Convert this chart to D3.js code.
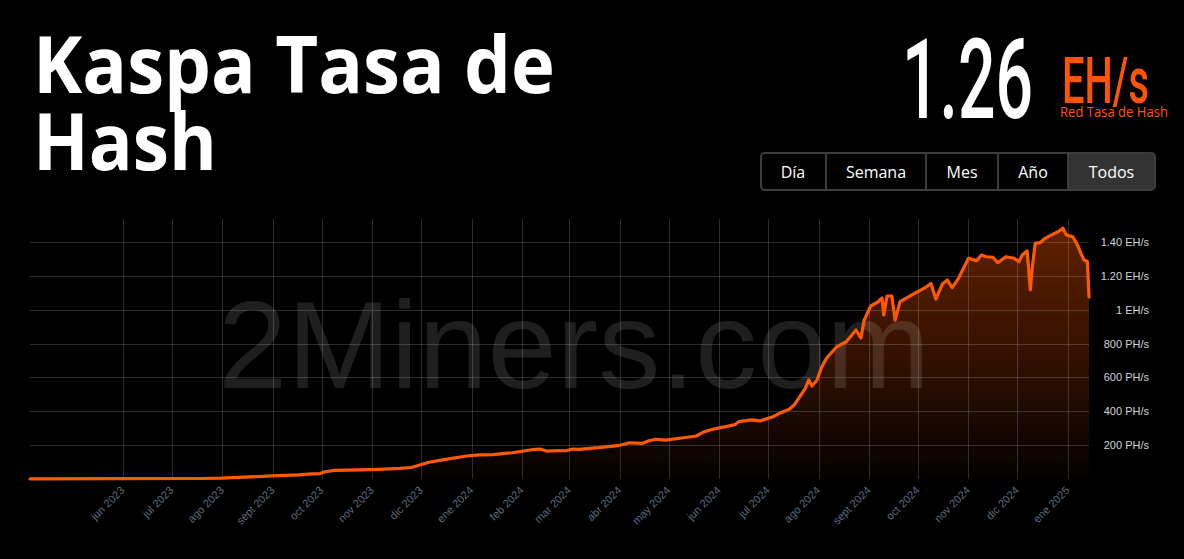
<!DOCTYPE html>
<html><head><meta charset="utf-8">
<script src="https://cdn.jsdelivr.net/npm/d3@7"></script>
<style>
html,body{margin:0;padding:0;background:#000;}
svg{display:block;}
</style></head>
<body>
<svg id="c" width="1184" height="559"></svg>
<script>
// ---- data ----
const dates = ["2023-04-05","2023-05-30","2023-07-18","2023-08-01","2023-08-18","2023-08-31","2023-09-17","2023-09-25","2023-09-30","2023-10-03","2023-10-09","2023-10-24","2023-11-05","2023-11-18","2023-11-25","2023-12-06","2023-12-16","2023-12-29","2024-01-06","2024-01-14","2024-01-26","2024-02-07","2024-02-12","2024-02-16","2024-02-24","2024-02-28","2024-03-03","2024-03-07","2024-03-19","2024-04-01","2024-04-07","2024-04-15","2024-04-19","2024-04-23","2024-04-29","2024-05-09","2024-05-18","2024-05-22","2024-05-28","2024-06-05","2024-06-11","2024-06-13","2024-06-21","2024-06-26","2024-07-04","2024-07-08","2024-07-14","2024-07-17","2024-07-22","2024-07-24","2024-07-26","2024-07-28","2024-07-31","2024-08-03","2024-08-06","2024-08-12","2024-08-18","2024-08-24","2024-08-27","2024-08-29","2024-09-02","2024-09-06","2024-09-09","2024-09-10","2024-09-12","2024-09-15","2024-09-17","2024-09-20","2024-09-26","2024-10-06","2024-10-09","2024-10-12","2024-10-16","2024-10-19","2024-10-22","2024-10-26","2024-10-31","2024-11-01","2024-11-06","2024-11-09","2024-11-12","2024-11-16","2024-11-19","2024-11-24","2024-11-29","2024-12-02","2024-12-04","2024-12-07","2024-12-08","2024-12-09","2024-12-10","2024-12-12","2024-12-15","2024-12-18","2024-12-22","2024-12-26","2024-12-29","2024-12-31","2025-01-04","2025-01-07","2025-01-09","2025-01-11","2025-01-13","2025-01-14"];
const hashratePH = [1,2,3,5,12,19,24,30,32,43,51,54,57,63,68,99,116,136,142,144,155,173,177,165,168,167,177,175,185,199,214,211,226,235,230,242,254,276,294,309,323,339,349,343,368,388,412,437,508,538,585,549,585,663,715,780,811,880,833,939,1022,1043,1069,969,1081,1081,939,1048,1081,1134,1155,1063,1152,1176,1131,1187,1284,1304,1290,1323,1313,1310,1278,1313,1304,1284,1323,1347,1235,1117,1235,1393,1396,1422,1442,1461,1481,1442,1431,1382,1333,1294,1284,1075];
const yTicks = [200,400,600,800,1000,1200,1400];
const yTickLabels = ["200 PH/s","400 PH/s","600 PH/s","800 PH/s","1 EH/s","1.20 EH/s","1.40 EH/s"];
const monthNames = ["ene","feb","mar","abr","may","jun","jul","ago","sept","oct","nov","dic"];
const xDomain = ["2023-04-05","2025-01-14"];
const xTickRange = ["2023-06-01","2025-01-02"];
const buttons = ["Día","Semana","Mes","Año","Todos"];
const activeButton = "Todos";
const currentValue = "1.26";
const currentUnit = "EH/s";
const subtitle = "Red Tasa de Hash";
const titleLines = ["Kaspa Tasa de","Hash"];
const watermark = "2Miners.com";

// ---- chart ----
const svg = d3.select("#c");
const plot = {left:30, right:1089, top:219, bottom:479};
const parse = d3.utcParse("%Y-%m-%d");
const data = dates.map((d,i)=>({date:parse(d), v:hashratePH[i]}));

const x = d3.scaleUtc().domain(xDomain.map(parse)).range([plot.left, plot.right]);
const y = d3.scaleLinear().domain([0,1536]).range([plot.bottom, plot.top]);

const defs = svg.append("defs");
const grad = defs.append("linearGradient").attr("id","fillg")
  .attr("gradientUnits","userSpaceOnUse").attr("x1",0).attr("x2",0).attr("y1",y(1480)).attr("y2",plot.bottom);
grad.append("stop").attr("offset","0%").attr("stop-color","#ff5500").attr("stop-opacity",0.38);
grad.append("stop").attr("offset","60%").attr("stop-color","#ff5500").attr("stop-opacity",0.17);
grad.append("stop").attr("offset","100%").attr("stop-color","#ff5500").attr("stop-opacity",0.01);

// area
const area = d3.area().x(d=>x(d.date)).y0(plot.bottom).y1(d=>y(d.v));
svg.append("path").datum(data).attr("d",area).attr("fill","url(#fillg)");

// grid
const gridColor = "rgba(255,255,255,0.17)";
const months = d3.utcMonth.range(parse(xTickRange[0]), parse(xTickRange[1]));
svg.append("g").selectAll("line").data(months).join("line")
  .attr("x1",d=>Math.round(x(d))+0.5).attr("x2",d=>Math.round(x(d))+0.5)
  .attr("y1",plot.top).attr("y2",plot.bottom)
  .attr("stroke",gridColor).attr("stroke-width",1);
svg.append("g").selectAll("line").data(yTicks).join("line")
  .attr("x1",plot.left).attr("x2",plot.right)
  .attr("y1",d=>Math.round(y(d))+0.5).attr("y2",d=>Math.round(y(d))+0.5)
  .attr("stroke",gridColor).attr("stroke-width",1);

// watermark
svg.append("text").attr("x",574).attr("y",388).attr("text-anchor","middle")
  .attr("font-family","'Liberation Sans', Arial, sans-serif").attr("font-size",125)
  .attr("fill","rgba(255,255,255,0.12)").attr("textLength",712).attr("lengthAdjust","spacingAndGlyphs")
  .text(watermark);

// line
const line = d3.line().x(d=>x(d.date)).y(d=>y(d.v));
svg.append("path").datum(data).attr("d",line).attr("fill","none")
  .attr("stroke","#ff5a00").attr("stroke-width",3.2).attr("stroke-linejoin","round").attr("stroke-linecap","round");

// y axis labels
const yAxis = d3.axisRight(y).tickValues(yTicks).tickSize(0)
  .tickFormat((d,i)=>yTickLabels[i]);
const gy = svg.append("g").attr("transform",`translate(1149,0)`).call(yAxis);
gy.select(".domain").remove();
gy.selectAll("text").attr("x",0).attr("text-anchor","end")
  .attr("font-family","'Liberation Sans', Arial, sans-serif").attr("font-size",11)
  .attr("fill","#cfd3da");

// x axis labels
const fmt = d => monthNames[d.getUTCMonth()] + " " + d.getUTCFullYear();
const xAxis = d3.axisBottom(x).tickValues(months).tickSize(0).tickFormat(fmt);
const gx = svg.append("g").attr("transform",`translate(0,${plot.bottom})`).call(xAxis);
gx.select(".domain").remove();
gx.selectAll("text")
  .attr("font-family","'Liberation Sans', Arial, sans-serif").attr("font-size",11)
  .attr("fill","#5c6d80").attr("text-anchor","end")
  .attr("dy",null).attr("y",null)
  .attr("transform","translate(2,12) rotate(-45)");

// title
const title = svg.append("g").attr("font-family","'Open Sans', 'Noto Sans', sans-serif")
  .attr("font-weight",700).attr("fill","#fff").attr("font-size",78);
title.append("text").attr("x",33).attr("y",93).attr("textLength",522).attr("lengthAdjust","spacingAndGlyphs").text(titleLines[0]);
title.append("text").attr("x",33).attr("y",170).attr("textLength",184).attr("lengthAdjust","spacingAndGlyphs").text(titleLines[1]);

// condensed text helper: scale horizontally to a target width
function condensed(txt, x0, y0, size, weight, color, targetW, family){
  const t = svg.append("text").attr("x",0).attr("y",0)
    .attr("font-family",family).attr("font-size",size).attr("font-weight",weight)
    .attr("fill",color).text(txt);
  const w = t.node().getComputedTextLength() || targetW;
  t.attr("transform",`translate(${x0},${y0}) scale(${targetW/w},1)`);
  return t;
}
condensed(currentValue, 902, 118, 111, 500, "#fff", 131, "Roboto, 'Liberation Sans', sans-serif");
condensed(currentUnit, 1062, 103, 64, 500, "#ff5500", 87, "Roboto, 'Liberation Sans', sans-serif");
condensed(subtitle, 1060, 117, 14, 400, "#ff5500", 108, "'Open Sans', 'Noto Sans', sans-serif");

// buttons
const bEdges = [760,826,926,998,1068,1155];
const bg = svg.append("g");
bg.append("rect").attr("x",1068).attr("y",153).attr("width",87).attr("height",37).attr("rx",3).attr("fill","#333");
bg.append("rect").attr("x",1068).attr("y",153).attr("width",10).attr("height",37).attr("fill","#333");
bg.append("rect").attr("x",761).attr("y",153).attr("width",394).attr("height",37).attr("rx",4)
  .attr("fill","none").attr("stroke","#3d3d3d").attr("stroke-width",2);
bg.selectAll("line").data(bEdges.slice(1,-1)).join("line")
  .attr("x1",d=>d).attr("x2",d=>d).attr("y1",153).attr("y2",190).attr("stroke","#3d3d3d").attr("stroke-width",2);
bg.selectAll("text.btn").data(buttons).join("text").attr("class","btn")
  .attr("x",(d,i)=>(bEdges[i]+bEdges[i+1])/2).attr("y",178).attr("text-anchor","middle")
  .attr("font-family","'Open Sans', 'Noto Sans', sans-serif").attr("font-size",16).attr("fill","#fff")
  .text(d=>d);
</script>
</body></html>
